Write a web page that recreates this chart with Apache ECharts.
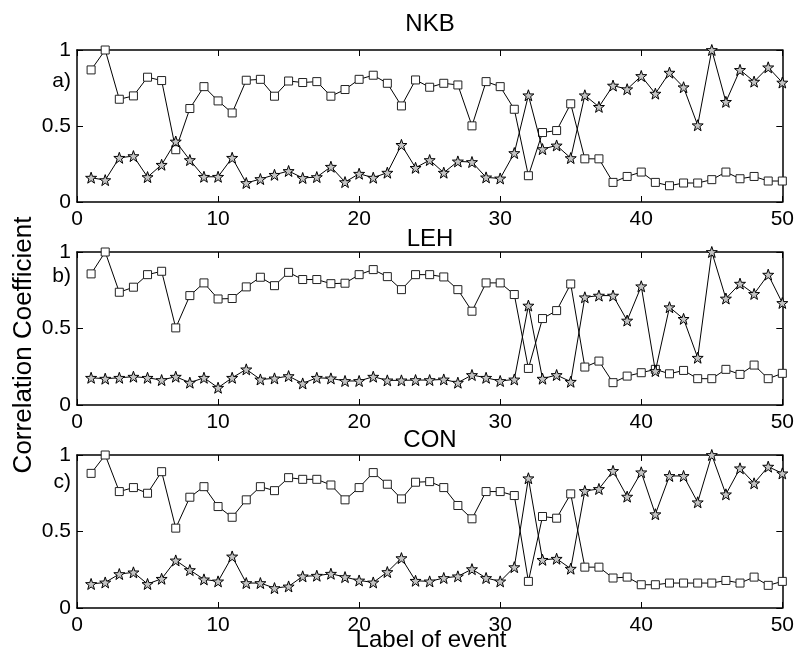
<!DOCTYPE html>
<html>
<head>
<meta charset="utf-8">
<script src="https://cdn.jsdelivr.net/npm/echarts@6/dist/echarts.min.js"></script>
<style>
html,body{margin:0;padding:0;background:#fff;}
#chart{width:797px;height:665px;}
</style>
</head>
<body>
<div id="chart"></div>
<script>
const events = [1,2,3,4,5,6,7,8,9,10,11,12,13,14,15,16,17,18,19,20,21,22,23,24,25,26,27,28,29,30,31,32,33,34,35,36,37,38,39,40,41,42,43,44,45,46,47,48,49,50];

const nkbSquare = [0.869,1.0,0.676,0.698,0.821,0.799,0.344,0.615,0.759,0.665,0.586,0.801,0.807,0.696,0.796,0.786,0.792,0.696,0.740,0.807,0.834,0.781,0.632,0.803,0.755,0.781,0.770,0.501,0.792,0.759,0.610,0.173,0.457,0.470,0.646,0.284,0.284,0.129,0.168,0.197,0.129,0.107,0.125,0.125,0.147,0.197,0.153,0.168,0.138,0.138];
const nkbStar = [0.160,0.144,0.291,0.302,0.164,0.245,0.398,0.276,0.166,0.166,0.291,0.125,0.151,0.179,0.204,0.158,0.164,0.232,0.131,0.186,0.160,0.193,0.376,0.225,0.276,0.193,0.267,0.263,0.162,0.155,0.322,0.702,0.348,0.372,0.289,0.702,0.626,0.766,0.742,0.829,0.713,0.851,0.755,0.505,1.0,0.659,0.869,0.792,0.886,0.786];

const lehSquare = [0.857,1.0,0.737,0.770,0.852,0.874,0.504,0.715,0.798,0.693,0.696,0.772,0.835,0.780,0.867,0.820,0.820,0.793,0.796,0.852,0.885,0.839,0.754,0.852,0.852,0.837,0.754,0.613,0.798,0.798,0.722,0.239,0.565,0.617,0.791,0.248,0.287,0.146,0.189,0.211,0.233,0.204,0.226,0.172,0.172,0.233,0.200,0.261,0.172,0.207];
const lehStar = [0.178,0.172,0.178,0.185,0.178,0.163,0.185,0.146,0.178,0.113,0.178,0.233,0.167,0.174,0.189,0.141,0.178,0.174,0.157,0.157,0.185,0.161,0.161,0.163,0.163,0.167,0.146,0.196,0.178,0.157,0.167,0.650,0.172,0.196,0.152,0.704,0.715,0.715,0.552,0.776,0.222,0.639,0.563,0.309,1.0,0.696,0.793,0.726,0.852,0.667];

const conSquare = [0.880,1.0,0.761,0.787,0.750,0.891,0.522,0.724,0.793,0.663,0.593,0.707,0.793,0.767,0.852,0.841,0.841,0.804,0.707,0.787,0.885,0.809,0.713,0.822,0.826,0.787,0.670,0.583,0.761,0.761,0.735,0.174,0.598,0.587,0.746,0.267,0.267,0.196,0.202,0.152,0.152,0.163,0.163,0.163,0.163,0.180,0.163,0.202,0.148,0.174];
const conStar = [0.157,0.167,0.222,0.233,0.157,0.191,0.311,0.248,0.187,0.174,0.337,0.163,0.163,0.130,0.141,0.207,0.211,0.224,0.202,0.180,0.167,0.235,0.326,0.178,0.174,0.196,0.207,0.254,0.196,0.174,0.267,0.848,0.315,0.322,0.257,0.765,0.778,0.896,0.728,0.887,0.613,0.863,0.863,0.691,1.0,0.743,0.913,0.815,0.924,0.880];

const panelTitles = ['NKB','LEH','CON'];
const panelLabels = ['a)','b)','c)'];
const squareSeries = [nkbSquare, lehSquare, conSquare];
const starSeries = [nkbStar, lehStar, conStar];
const xTickInterval = 10;
const yTickInterval = 0.5;
const xAxisName = 'Label of event';
const yAxisName = 'Correlation Coefficient';

const FONT = "'Liberation Sans', Arial, Helvetica, sans-serif";
const gridTops = [50, 252, 455];
const gridHeights = [152, 153, 153];
const titleY = [24, 239, 440];
const labelY = [81, 276, 482];
const starPath = 'path://M0,-10 L2.35,-3.24 L9.51,-3.09 L3.8,1.24 L5.88,8.09 L0,4 L-5.88,8.09 L-3.8,1.24 L-9.51,-3.09 L-2.35,-3.24 Z';

const pairs = (vals) => events.map((e, i) => [e, vals[i]]);

const grids = [], xAxes = [], yAxes = [], series = [], graphics = [];
const axisLine = {show: true, onZero: false, lineStyle: {color: '#000', width: 1.5}};
for (let p = 0; p < 3; p++) {
  grids.push({left: 77, right: 14, top: gridTops[p], height: gridHeights[p], containLabel: false});
  xAxes.push({
    type: 'value', gridIndex: p, position: 'bottom', min: 0, max: 50, interval: xTickInterval,
    axisLine: axisLine, axisTick: {show: true, inside: true, length: 6, lineStyle: {color: '#000', width: 1}},
    axisLabel: {show: true, color: '#000', fontSize: 21, fontFamily: FONT, margin: 7},
    splitLine: {show: false}
  });
  xAxes.push({
    type: 'value', gridIndex: p, position: 'top', min: 0, max: 50, interval: xTickInterval,
    axisLine: axisLine, axisTick: {show: true, inside: true, length: 6, lineStyle: {color: '#000', width: 1}},
    axisLabel: {show: false}, splitLine: {show: false}
  });
  yAxes.push({
    type: 'value', gridIndex: p, position: 'left', min: 0, max: 1, interval: yTickInterval,
    axisLine: axisLine, axisTick: {show: true, inside: true, length: 6, lineStyle: {color: '#000', width: 1}},
    axisLabel: {show: true, color: '#000', fontSize: 21, fontFamily: FONT, margin: 6},
    splitLine: {show: false}
  });
  yAxes.push({
    type: 'value', gridIndex: p, position: 'right', min: 0, max: 1, interval: yTickInterval,
    axisLine: axisLine, axisTick: {show: true, inside: true, length: 6, lineStyle: {color: '#000', width: 1}},
    axisLabel: {show: false}, splitLine: {show: false}
  });
  series.push({
    type: 'line', xAxisIndex: p * 2, yAxisIndex: p * 2, data: pairs(squareSeries[p]),
    symbol: 'rect', symbolSize: 8, showAllSymbol: true,
    lineStyle: {color: '#000', width: 1},
    itemStyle: {color: '#fff', borderColor: '#222', borderWidth: 1},
    emphasis: {disabled: true}, z: 2
  });
  series.push({
    type: 'line', xAxisIndex: p * 2, yAxisIndex: p * 2, data: pairs(starSeries[p]),
    symbol: starPath, symbolSize: 11, showAllSymbol: true,
    lineStyle: {color: '#000', width: 1},
    itemStyle: {color: '#c4c4c4', borderColor: '#000', borderWidth: 1},
    emphasis: {disabled: true}, z: 3
  });
  graphics.push({
    type: 'text', x: 430, y: titleY[p],
    style: {text: panelTitles[p], fill: '#000', font: '24px ' + FONT, textAlign: 'center', textVerticalAlign: 'middle'}
  });
  graphics.push({
    type: 'text', x: 71, y: labelY[p],
    style: {text: panelLabels[p], fill: '#000', font: '21px ' + FONT, textAlign: 'right', textVerticalAlign: 'middle'}
  });
}
graphics.push({
  type: 'text', x: 431, y: 640,
  style: {text: xAxisName, fill: '#000', font: '24px ' + FONT, textAlign: 'center', textVerticalAlign: 'middle'}
});
graphics.push({
  type: 'text', x: 24, y: 345, rotation: Math.PI / 2,
  style: {text: yAxisName, fill: '#000', font: '26px ' + FONT, textAlign: 'center', textVerticalAlign: 'middle'}
});

const chart = echarts.init(document.getElementById('chart'), null, {renderer: 'canvas'});
chart.setOption({
  animation: false,
  backgroundColor: '#fff',
  grid: grids,
  xAxis: xAxes,
  yAxis: yAxes,
  series: series,
  graphic: graphics
});
</script>
</body>
</html>
